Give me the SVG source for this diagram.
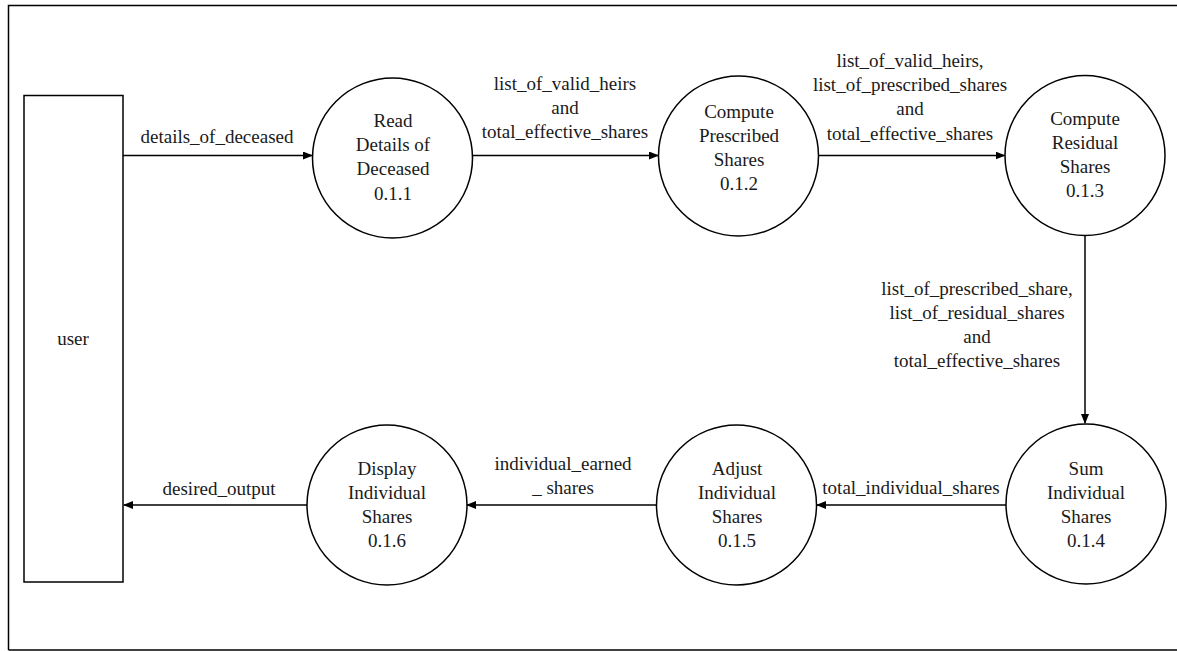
<svg xmlns="http://www.w3.org/2000/svg" width="1177" height="651" viewBox="0 0 1177 651">
<style>
text{font-size:19px;fill:#1a1a1a;text-anchor:middle}
.n{fill:#fff;stroke:#000;stroke-width:1.5}
.c{stroke:#000;stroke-width:1.5;fill:none;marker-end:url(#ah)}
</style>
<defs>
<marker id="ah" markerWidth="10" markerHeight="8" refX="9" refY="4" orient="auto" markerUnits="userSpaceOnUse">
<path d="M0,0 L10,4 L0,8 z" fill="#000"/>
</marker>
</defs>
<rect x="0" y="0" width="1177" height="651" fill="#fff"/>
<path d="M1177,5.5 H8.5 V650" fill="none" stroke="#000" stroke-width="1.5"/>
<path d="M8.5,650 H1177" fill="none" stroke="#000" stroke-width="1.5"/>
<g font-family="'Liberation Serif', 'Times New Roman', Tinos, 'DejaVu Serif', serif">
<g id="user"><rect class="n" x="24" y="95.5" width="99" height="486.5"/><text x="73" y="345">user</text></g>
<g id="p011"><circle class="n" cx="392.5" cy="158" r="80"/><text x="393" y="127">Read</text><text x="393" y="151">Details of</text><text x="393" y="175">Deceased</text><text x="393" y="200">0.1.1</text></g>
<g id="p012"><circle class="n" cx="738.5" cy="156" r="80"/><text x="739" y="118">Compute</text><text x="739" y="142">Prescribed</text><text x="739" y="166">Shares</text><text x="739" y="190">0.1.2</text></g>
<g id="p013"><circle class="n" cx="1085" cy="155.5" r="80"/><text x="1085" y="125">Compute</text><text x="1085" y="149">Residual</text><text x="1085" y="173">Shares</text><text x="1085" y="197">0.1.3</text></g>
<g id="p014"><circle class="n" cx="1086" cy="504" r="80"/><text x="1086" y="475">Sum</text><text x="1086" y="499">Individual</text><text x="1086" y="523">Shares</text><text x="1086" y="547">0.1.4</text></g>
<g id="p015"><circle class="n" cx="736.5" cy="505" r="80"/><text x="737" y="475">Adjust</text><text x="737" y="499">Individual</text><text x="737" y="523">Shares</text><text x="737" y="547">0.1.5</text></g>
<g id="p016"><circle class="n" cx="387" cy="505" r="80"/><text x="387" y="475">Display</text><text x="387" y="499">Individual</text><text x="387" y="523">Shares</text><text x="387" y="547">0.1.6</text></g>
<g id="connectors">
<path class="c" d="M123,155.5 H312"/>
<path class="c" d="M472,155.5 H658"/>
<path class="c" d="M818,155.5 H1004.5"/>
<path class="c" d="M1085,235.5 V423"/>
<path class="c" d="M1006,505 H817"/>
<path class="c" d="M657,505 H467"/>
<path class="c" d="M307,505 H124"/>
<text x="217" y="143">details_of_deceased</text>
<text x="565" y="90">list_of_valid_heirs</text><text x="565" y="114">and</text><text x="565" y="138">total_effective_shares</text>
<text x="910" y="67">list_of_valid_heirs,</text><text x="910" y="91">list_of_prescribed_shares</text><text x="910" y="115">and</text><text x="910" y="140">total_effective_shares</text>
<text x="977" y="295">list_of_prescribed_share,</text><text x="977" y="319">list_of_residual_shares</text><text x="977" y="343">and</text><text x="977" y="367">total_effective_shares</text>
<text x="911" y="494">total_individual_shares</text>
<text x="563" y="470">individual_earned</text><text x="563" y="494">_ shares</text>
<text x="219" y="495">desired_output</text>
</g>
</g>
</svg>
